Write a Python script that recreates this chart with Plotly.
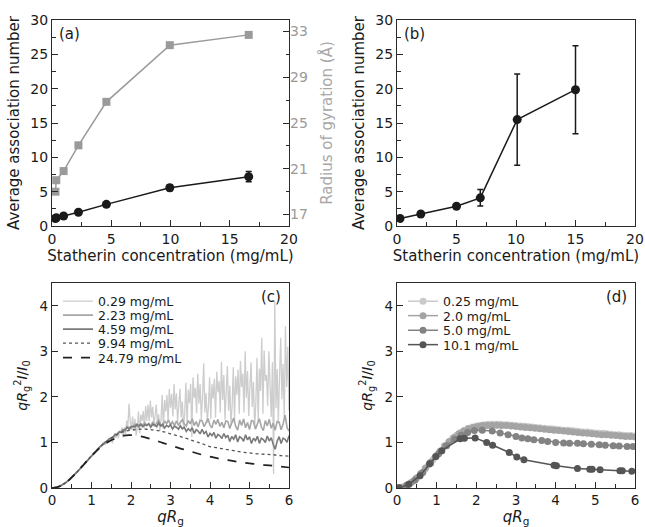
import plotly.graph_objects as go

# ---------------- panel (a): association number and Rg vs concentration ----
conc_a = [0.29, 0.36, 0.98, 2.23, 4.59, 9.94, 16.6]
assoc_a = [1.1, 1.2, 1.45, 2.0, 3.15, 5.57, 7.18]
assoc_a_err = [0.2, 0.2, 0.2, 0.25, 0.3, 0.45, 0.75]
rg_a = [19.0, 20.0, 20.8, 23.05, 26.85, 31.8, 32.7]

# ---------------- panel (b): association number vs concentration -----------
conc_b = [0.25, 2.0, 5.0, 7.0, 10.1, 15.0]
assoc_b = [1.1, 1.75, 2.87, 4.1, 15.5, 19.85]
assoc_b_err = [0.3, 0.3, 0.3, 1.2, 6.65, 6.4]

# ---------------- panel (c): dimensionless Kratky curves --------------------
# 0.29 mg/mL, sampled every 0.03 in qRg starting at 0
kr_029_dq = 0.03
kr_029 = [
    0.0, 0.001, 0.004, 0.008, 0.014, 0.022, 0.032, 0.044, 0.057, 0.071,
    0.087, 0.105, 0.124, 0.145, 0.166, 0.189, 0.213, 0.239, 0.265, 0.292,
    0.319, 0.348, 0.377, 0.406, 0.436, 0.466, 0.497, 0.527, 0.558, 0.588,
    0.618, 0.648, 0.678, 0.707, 0.736, 0.763, 0.791, 0.817, 0.843, 0.868,
    0.891,
    0.92, 0.91, 0.99, 0.97, 0.96, 1.03, 1.01, 1.07, 1.03, 1.10,
    0.98, 1.12, 1.20, 1.10, 1.21, 1.09, 1.26, 1.20, 1.33, 1.11,
    1.33, 1.18, 1.48, 1.33, 1.85, 1.46, 1.32, 1.57, 1.27, 1.52,
    1.15, 1.33, 1.68, 1.20, 1.61, 1.47, 1.69, 1.31, 1.80, 1.48,
    1.83, 1.46, 1.92, 1.55, 1.78, 1.35, 1.60, 1.83, 1.40, 1.62,
    1.25, 1.51, 2.04, 1.30, 1.93, 1.68, 2.04, 1.44, 2.17, 1.76,
    2.07, 1.57, 2.28, 1.73, 2.08, 1.44, 1.84, 2.18, 1.55, 1.90,
    1.31, 1.66, 2.31, 1.40, 2.16, 1.86, 2.29, 1.12, 2.43, 1.98,
    2.20, 1.64, 2.51, 1.85, 2.28, 1.51, 2.00, 2.74, 1.66, 2.09,
    1.43, 1.78, 2.43, 1.51, 2.28, 1.96, 2.40, 1.54, 2.55, 2.10,
    2.35, 1.65, 2.77, 1.93, 2.48, 1.50, 2.12, 2.68, 1.69, 2.25,
    1.38, 1.81, 2.65, 1.47, 2.45, 2.04, 2.60, 1.63, 2.79, 2.22,
    2.51, 1.65, 3.00, 1.98, 2.57, 1.58, 2.21, 2.76, 1.78, 2.33,
    1.32, 1.85, 2.86, 1.44, 2.62, 2.13, 3.30, 1.63, 3.02, 2.35,
    2.48, 1.80, 3.00, 2.32, 1.56, 2.76, 0.30, 4.10, 1.75, 2.61,
    1.42, 2.45, 3.30, 1.95, 2.72, 1.53, 3.55, 2.22, 3.10, 1.70,
]

# 2.23 and 4.59 mg/mL, sampled every 0.05 in qRg starting at 0
kr_dq = 0.05
kr_low = [
    0.0, 0.003, 0.010, 0.022, 0.040, 0.062, 0.089, 0.120, 0.155, 0.193,
    0.232, 0.274, 0.318, 0.364, 0.412, 0.461, 0.512, 0.562, 0.612, 0.662,
    0.712, 0.760, 0.806, 0.850, 0.891, 0.928,
]
kr_223_high = [
    0.975, 0.979, 1.029, 1.080, 1.082, 1.100, 1.164, 1.176, 1.228, 1.223,
    1.267, 1.244, 1.324, 1.335, 1.298, 1.353, 1.400, 1.354, 1.335, 1.413,
    1.382, 1.431, 1.376, 1.417, 1.347, 1.454, 1.358, 1.430, 1.488, 1.392,
    1.352, 1.473, 1.412, 1.491, 1.388, 1.451, 1.367, 1.472, 1.374, 1.444,
    1.500, 1.402, 1.360, 1.479, 1.410, 1.520, 1.370, 1.460, 1.338, 1.488,
    1.477, 1.346, 1.445, 1.524, 1.380, 1.320, 1.490, 1.398, 1.506, 1.354,
    1.443, 1.322, 1.471, 1.460, 1.306, 1.434, 1.536, 1.352, 1.272, 1.491,
    1.374, 1.517, 1.322, 1.439, 1.283, 1.478, 1.463, 1.292, 1.420, 1.522,
    1.338, 1.260, 1.481, 1.364, 1.507, 1.310, 1.425, 1.267, 1.460, 1.445,
    1.276, 1.406, 1.600, 1.328, 1.250,
]
kr_459_high = [
    0.959, 1.016, 1.017, 1.078, 1.102, 1.118, 1.180, 1.186, 1.232, 1.225,
    1.276, 1.280, 1.338, 1.289, 1.349, 1.354, 1.339, 1.400, 1.363, 1.396,
    1.345, 1.391, 1.370, 1.408, 1.335, 1.400, 1.383, 1.346, 1.424, 1.362,
    1.400, 1.315, 1.375, 1.340, 1.390, 1.298, 1.357, 1.335, 1.293, 1.367,
    1.300, 1.332, 1.243, 1.300, 1.256, 1.324, 1.197, 1.278, 1.247, 1.188,
    1.290, 1.196, 1.242, 1.120, 1.201, 1.151, 1.219, 1.092, 1.175, 1.145,
    1.088, 1.195, 1.106, 1.157, 1.020, 1.132, 1.073, 1.168, 1.011, 1.125,
    1.094, 1.027, 1.167, 1.056, 1.124, 0.978, 1.093, 1.037, 1.134, 0.979,
    1.094, 1.065, 1.000, 1.142, 1.032, 1.105, 0.962, 0.850, 1.027, 1.127,
    0.975, 1.093, 1.067, 1.005, 1.150,
]
kr_223 = kr_low + kr_223_high
kr_459 = kr_low + kr_459_high

# 9.94 and 24.79 mg/mL, smooth curves every 0.2 in qRg
kr_smooth_q = [
    0.0, 0.2, 0.4, 0.6, 0.8, 1.0, 1.2, 1.4, 1.6, 1.8, 2.0, 2.2, 2.4, 2.6,
    2.8, 3.0, 3.2, 3.4, 3.6, 3.8, 4.0, 4.2, 4.4, 4.6, 4.8, 5.0, 5.2, 5.4,
    5.6, 5.8, 6.0,
]
kr_994 = [
    0.0, 0.04, 0.15, 0.32, 0.52, 0.71, 0.89, 1.04, 1.15, 1.23, 1.27, 1.29,
    1.29, 1.27, 1.24, 1.19, 1.14, 1.09, 1.03, 0.97, 0.91, 0.88, 0.85, 0.82,
    0.79, 0.77, 0.75, 0.74, 0.73, 0.71, 0.70,
]
kr_2479 = [
    0.0, 0.04, 0.15, 0.32, 0.51, 0.70, 0.87, 1.00, 1.09, 1.15, 1.16, 1.14,
    1.10, 1.05, 0.99, 0.94, 0.88, 0.83, 0.78, 0.73, 0.69, 0.65, 0.62, 0.59,
    0.56, 0.54, 0.52, 0.50, 0.49, 0.47, 0.45,
]

# ---------------- panel (d): Kratky curves, second sample set --------------
kd_025_dq = 0.1
kd_025 = [
    0.0, 0.01, 0.04, 0.09, 0.15, 0.23, 0.32, 0.41, 0.51, 0.62, 0.72, 0.82,
    0.92, 1.01, 1.09, 1.16, 1.22, 1.27, 1.31, 1.34, 1.36, 1.38, 1.39, 1.40,
    1.40, 1.40, 1.40, 1.39, 1.39, 1.38, 1.37, 1.36, 1.36, 1.35, 1.34, 1.33,
    1.32, 1.31, 1.30, 1.30, 1.29, 1.28, 1.27, 1.27, 1.26, 1.25, 1.24, 1.23,
    1.23, 1.22, 1.21, 1.20, 1.20, 1.19, 1.18, 1.17, 1.17, 1.16, 1.15, 1.15,
    1.14,
]
kd_20_dq = 0.12
kd_20 = [
    0.0, 0.015, 0.06, 0.12, 0.21, 0.32, 0.44, 0.56, 0.68, 0.80, 0.92, 1.02,
    1.11, 1.19, 1.25, 1.30, 1.33, 1.35, 1.37, 1.37, 1.38, 1.38, 1.37, 1.37,
    1.36, 1.35, 1.34, 1.33, 1.32, 1.31, 1.30, 1.29, 1.28, 1.27, 1.26, 1.25,
    1.24, 1.23, 1.22, 1.21, 1.20, 1.19, 1.18, 1.17, 1.17, 1.16, 1.15, 1.14,
    1.13, 1.13, 1.12,
]
kd_50_q = [
    0.05, 0.25, 0.45, 0.65, 0.85, 1.05, 1.25, 1.45, 1.62, 1.78, 1.95, 2.15,
    2.40, 2.60, 2.80, 3.00, 3.15, 3.30, 3.45, 3.65, 3.80, 4.00, 4.20, 4.35,
    4.55, 4.70, 4.90, 5.10, 5.25, 5.45, 5.60, 5.80, 5.95,
]
kd_50 = [
    0.003, 0.06, 0.17, 0.34, 0.55, 0.75, 0.93, 1.07, 1.16, 1.22, 1.26, 1.27,
    1.25, 1.21, 1.17, 1.13, 1.10, 1.08, 1.06, 1.04, 1.02, 1.00, 0.99, 0.98,
    0.98, 0.97, 0.96, 0.95, 0.94, 0.93, 0.92, 0.91, 0.91,
]
kd_101_q = [
    0.05, 0.30, 0.58, 0.82, 0.98, 1.13, 1.59, 1.70, 1.97, 2.26, 2.41, 2.83,
    3.02, 3.20, 3.96, 4.02, 4.55, 4.86, 4.92, 5.12, 5.62, 5.68, 5.92,
]
kd_101 = [
    0.003, 0.08, 0.27, 0.53, 0.69, 0.82, 1.08, 1.09, 1.10, 1.00, 0.94, 0.78,
    0.68, 0.62, 0.50, 0.49, 0.43, 0.41, 0.41, 0.40, 0.38, 0.38, 0.37,
]

# ---------------- styling -------------------------------------------------
FONT = "DejaVu Sans"
INK = "#1a1a1a"
RG_GRAY = "#9a9a9a"
W, H = 645, 527


def px_x(a, b):
    return [a / W, b / W]


def px_y(top, bottom):
    return [(H - bottom) / H, (H - top) / H]


dom_left = px_x(52, 289)
dom_right = px_x(397, 635)
dom_top = px_y(20, 226)
dom_bot = px_y(283, 488)

fig = go.Figure()

# (a) association number
fig.add_trace(go.Scatter(
    x=conc_a, y=assoc_a, xaxis="x", yaxis="y", mode="lines+markers",
    line=dict(color=INK, width=1.5),
    marker=dict(symbol="circle", size=9, color=INK),
    error_y=dict(type="data", array=assoc_a_err, color=INK, thickness=1.5, width=3),
    showlegend=False,
))
# (a) radius of gyration on the right axis
fig.add_trace(go.Scatter(
    x=conc_a, y=rg_a, xaxis="x", yaxis="y2", mode="lines+markers",
    line=dict(color=RG_GRAY, width=1.5),
    marker=dict(symbol="square", size=8, color=RG_GRAY),
    showlegend=False,
))
# (b)
fig.add_trace(go.Scatter(
    x=conc_b, y=assoc_b, xaxis="x2", yaxis="y3", mode="lines+markers",
    line=dict(color=INK, width=1.5),
    marker=dict(symbol="circle", size=9, color=INK),
    error_y=dict(type="data", array=assoc_b_err, color=INK, thickness=1.5, width=3),
    showlegend=False,
))

# (c) -- each entry gets its own one-item legend so the rows sit tightly
c_legend_rows = [301.5, 315.5, 329.5, 343.5, 358.0]
d_legend_rows = [301.5, 316.0, 330.5, 345.0]

fig.add_trace(go.Scatter(
    y=kr_029, x0=0, dx=kr_029_dq, xaxis="x3", yaxis="y4", mode="lines",
    line=dict(color="#cdcdcd", width=1.3), name="0.29 mg/mL", legend="legend",
))
fig.add_trace(go.Scatter(
    y=kr_223, x0=0, dx=kr_dq, xaxis="x3", yaxis="y4", mode="lines",
    line=dict(color="#a6a6a6", width=1.6), name="2.23 mg/mL", legend="legend2",
))
fig.add_trace(go.Scatter(
    y=kr_459, x0=0, dx=kr_dq, xaxis="x3", yaxis="y4", mode="lines",
    line=dict(color="#7a7a7a", width=1.6), name="4.59 mg/mL", legend="legend3",
))
fig.add_trace(go.Scatter(
    x=kr_smooth_q, y=kr_994, xaxis="x3", yaxis="y4", mode="lines",
    line=dict(color="#555555", width=1.3, dash="dot", shape="spline"),
    name="9.94 mg/mL", legend="legend4",
))
fig.add_trace(go.Scatter(
    x=kr_smooth_q, y=kr_2479, xaxis="x3", yaxis="y4", mode="lines",
    line=dict(color="#222222", width=1.7, dash="dash", shape="spline"),
    name="24.79 mg/mL", legend="legend5",
))

# (d)
d_series = [
    dict(x0=0, dx=kd_025_dq, y=kd_025, col="#cacaca", nm="0.25 mg/mL"),
    dict(x0=0, dx=kd_20_dq, y=kd_20, col="#a4a4a4", nm="2.0 mg/mL"),
    dict(x=kd_50_q, y=kd_50, col="#838383", nm="5.0 mg/mL"),
    dict(x=kd_101_q, y=kd_101, col="#555555", nm="10.1 mg/mL"),
]
for k, s in enumerate(d_series):
    pos = {key: s[key] for key in ("x", "x0", "dx") if key in s}
    fig.add_trace(go.Scatter(
        y=s["y"], **pos, xaxis="x4", yaxis="y5", mode="lines+markers",
        line=dict(color=s["col"], width=1.5),
        marker=dict(symbol="circle", size=7, color=s["col"]),
        name=s["nm"], legend=f"legend{6 + k}",
    ))

tickfont = dict(family=FONT, size=14, color=INK)
tickfont_s = dict(family=FONT, size=13.5, color=INK)
titlefont = dict(family=FONT, size=15, color=INK)


def frame(**kw):
    base = dict(
        showline=True, linecolor="#2a2a2a", linewidth=1.3, mirror=True,
        ticks="inside", ticklen=6, tickwidth=1, tickcolor="#2a2a2a",
        showgrid=False, zeroline=False, automargin=False,
    )
    base.update(kw)
    return base


conc_title = dict(text="Statherin concentration (mg/mL)", font=titlefont, standoff=1)
assoc_title = dict(text="Average association number", font=titlefont, standoff=6)
q_title = dict(text="<i>qR</i><sub>g</sub>", font=titlefont, standoff=2)
kr_title = dict(
    text="<i>qR</i><sub>g</sub><sup>2</sup><i>I</i>/<i>I</i><sub>0</sub>",
    font=dict(family=FONT, size=14, color=INK), standoff=8,
)

minor_conc = dict(dtick=2.5, ticks="inside", ticklen=3.5, tickcolor="#2a2a2a")
minor_q = dict(dtick=0.5, ticks="inside", ticklen=3.5, tickcolor="#2a2a2a")

legend_font = dict(family=FONT, size=12.5, color=INK)
legends = {}
for k, row in enumerate(c_legend_rows):
    key = "legend" if k == 0 else f"legend{k + 1}"
    legends[key] = dict(x=58 / W, y=(H - row) / H, xanchor="left", yanchor="middle",
                        bgcolor="rgba(0,0,0,0)", font=legend_font)
for k, row in enumerate(d_legend_rows):
    legends[f"legend{6 + k}"] = dict(x=403 / W, y=(H - row) / H, xanchor="left",
                                     yanchor="middle", bgcolor="rgba(0,0,0,0)",
                                     font=legend_font)

fig.update_layout(
    width=W, height=H, margin=dict(l=0, r=0, t=0, b=0),
    paper_bgcolor="white", plot_bgcolor="white",
    font=dict(family=FONT, color=INK),
    xaxis=frame(domain=dom_left, anchor="y", range=[0, 20], dtick=5,
                minor=minor_conc, tickfont=tickfont, title=conc_title),
    yaxis=frame(domain=dom_top, anchor="x", range=[0, 30], dtick=5,
                minor=minor_conc, tickfont=tickfont, title=assoc_title),
    yaxis2=dict(overlaying="y", anchor="x", side="right", range=[16, 34],
                tick0=17, dtick=4, ticks="inside", ticklen=6, tickcolor="#2a2a2a",
                minor=dict(tick0=17, dtick=2, ticks="inside", ticklen=3.5,
                           tickcolor="#2a2a2a"),
                showgrid=False, zeroline=False, showline=False, automargin=False,
                tickfont=dict(family=FONT, size=14, color=RG_GRAY),
                title=dict(text="Radius of gyration (Å)",
                           font=dict(family=FONT, size=15, color="#a8a8a8"),
                           standoff=14)),
    xaxis2=frame(domain=dom_right, anchor="y3", range=[0, 20], dtick=5,
                 minor=minor_conc, tickfont=tickfont, title=conc_title),
    yaxis3=frame(domain=dom_top, anchor="x2", range=[0, 30], dtick=5,
                 minor=minor_conc, tickfont=tickfont, title=assoc_title),
    xaxis3=frame(domain=dom_left, anchor="y4", range=[0, 6], dtick=1,
                 minor=minor_q, tickfont=tickfont_s, title=q_title),
    yaxis4=frame(domain=dom_bot, anchor="x3", range=[0, 4.5], dtick=1,
                 tickfont=tickfont_s, title=kr_title),
    xaxis4=frame(domain=dom_right, anchor="y5", range=[0, 6], dtick=1,
                 minor=minor_q, tickfont=tickfont_s, title=q_title),
    yaxis5=frame(domain=dom_bot, anchor="x4", range=[0, 4.5], dtick=1,
                 tickfont=tickfont_s, title=kr_title),
    **legends,
)

# panel letters
for txt, xr, yr in [("(a)", "x domain", "y domain"), ("(b)", "x2 domain", "y3 domain")]:
    fig.add_annotation(text=txt, xref=xr, yref=yr, x=0.02, y=0.985, xanchor="left",
                       yanchor="top", showarrow=False,
                       font=dict(family=FONT, size=15, color=INK))
for txt, xr, yr in [("(c)", "x3 domain", "y4 domain"), ("(d)", "x4 domain", "y5 domain")]:
    fig.add_annotation(text=txt, xref=xr, yref=yr, x=0.975, y=0.985, xanchor="right",
                       yanchor="top", showarrow=False,
                       font=dict(family=FONT, size=15, color=INK))

fig.write_html("out.html")
